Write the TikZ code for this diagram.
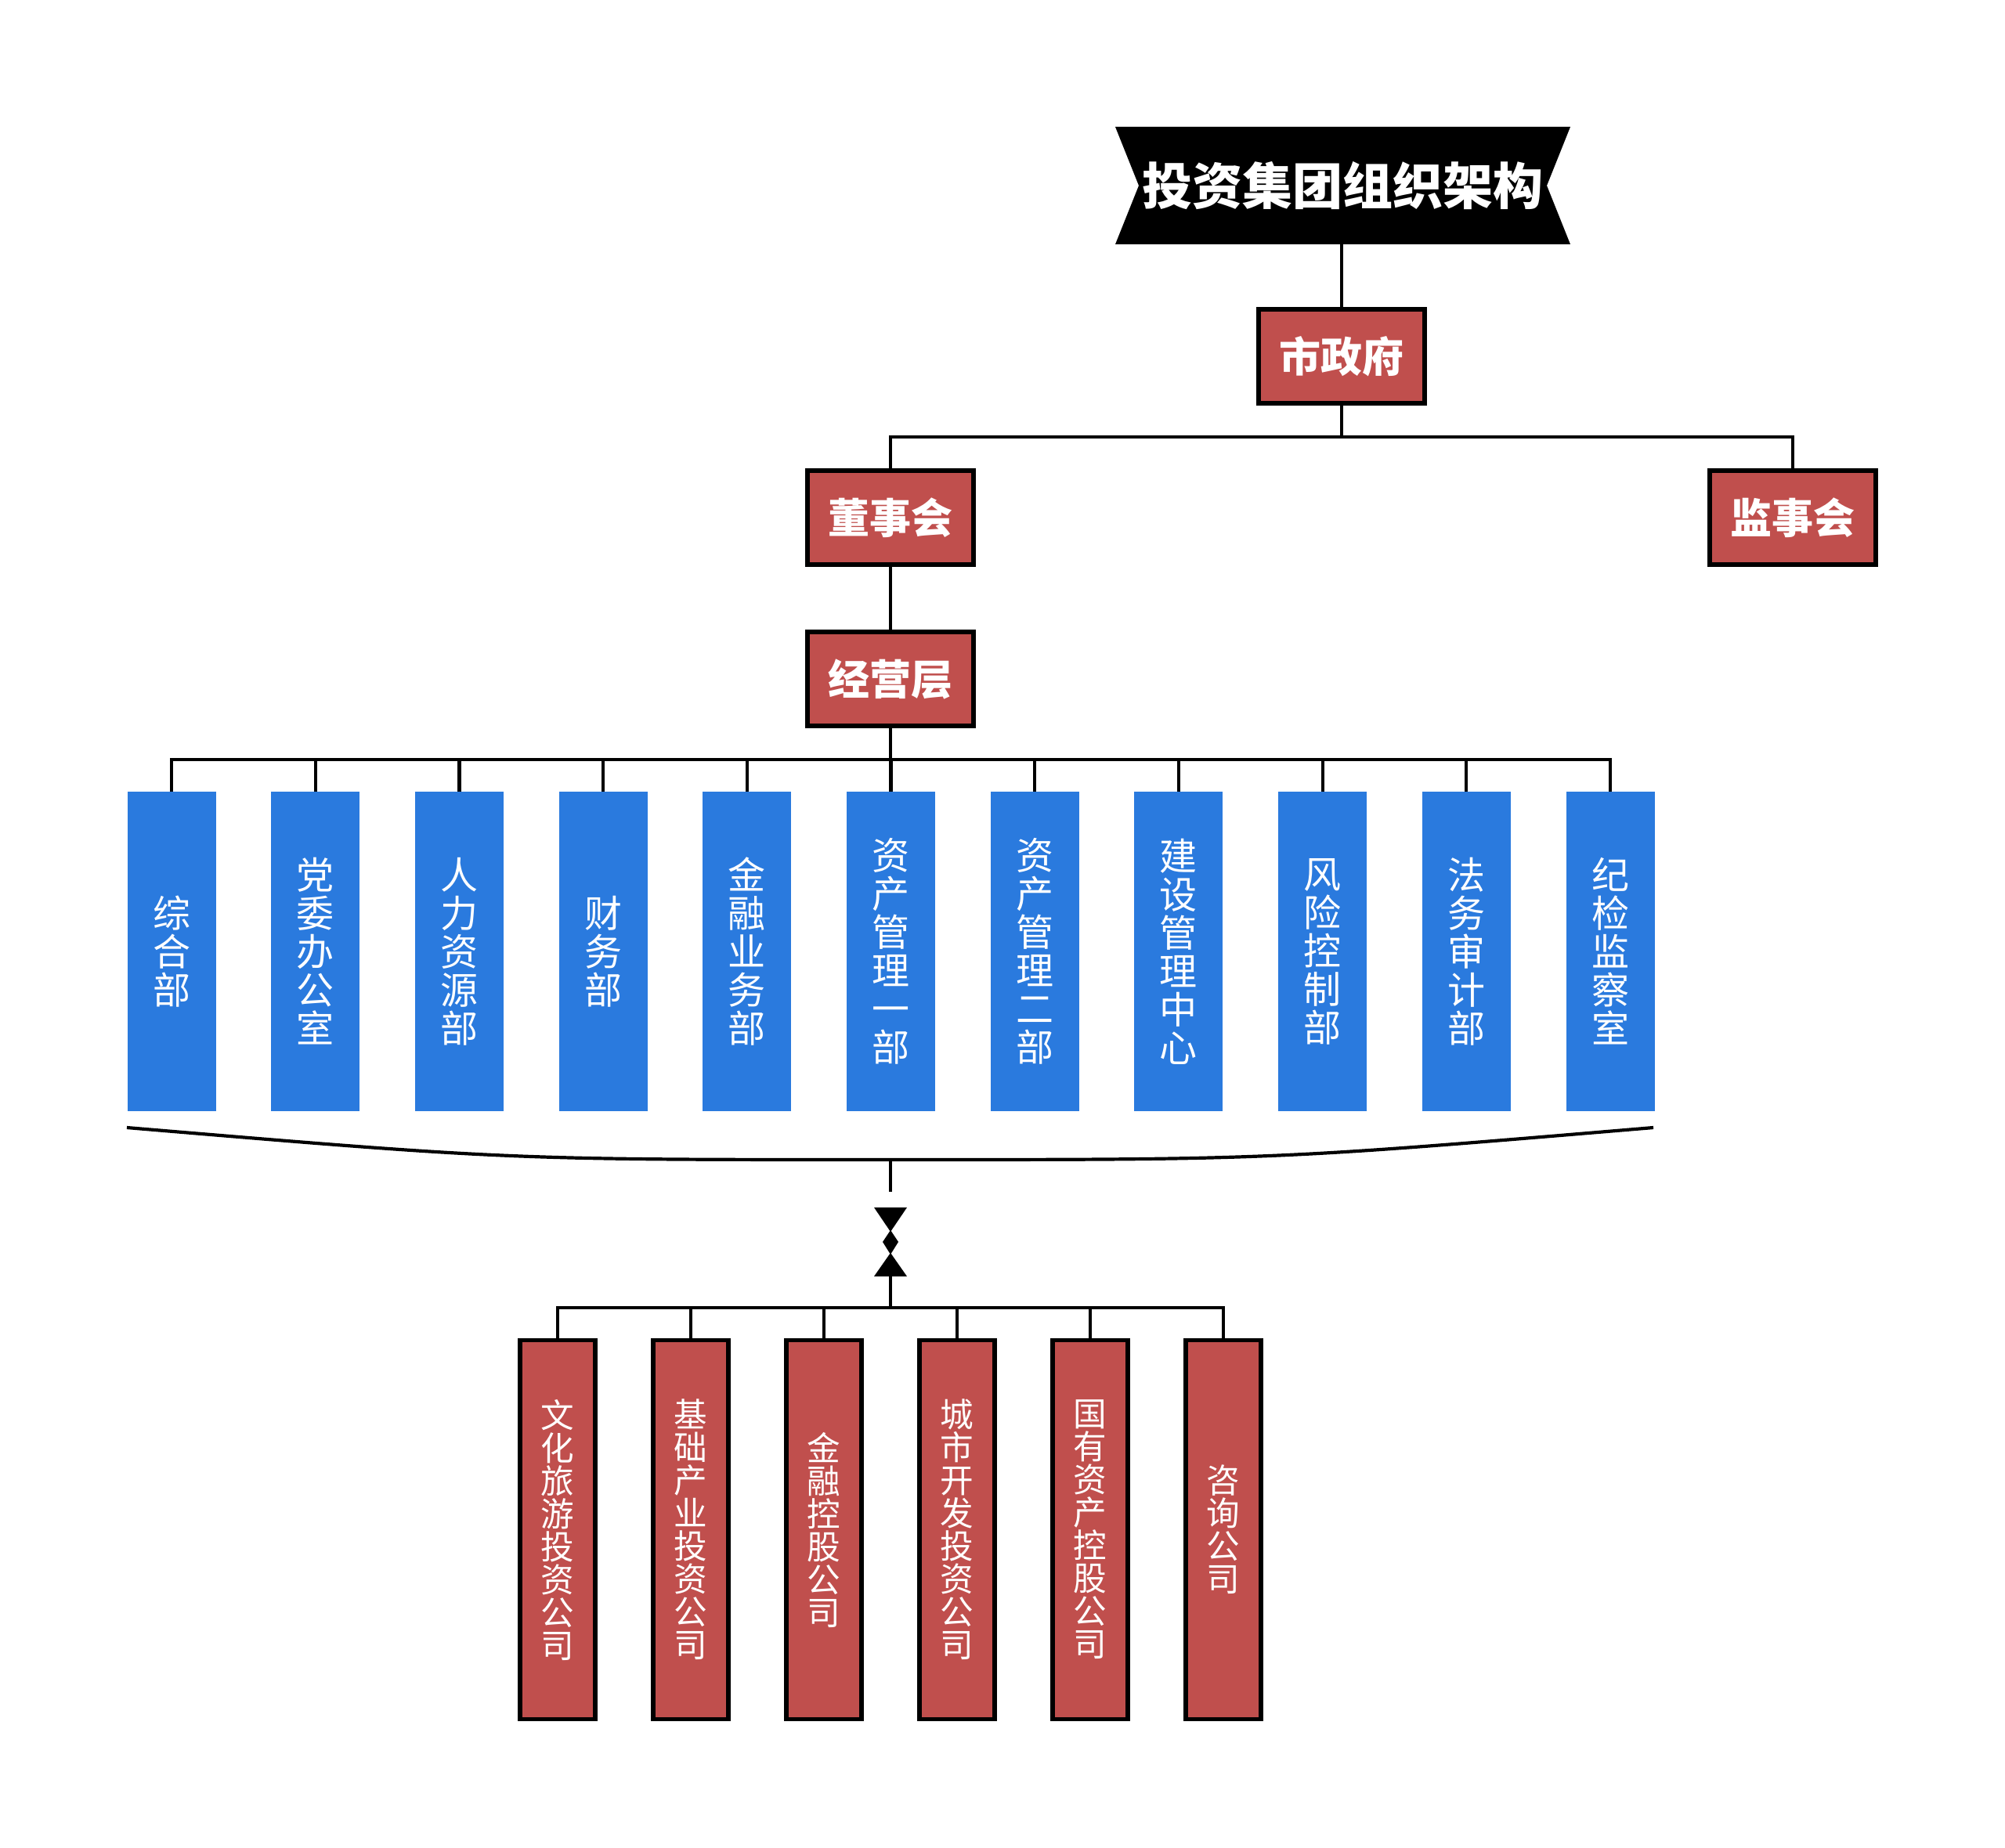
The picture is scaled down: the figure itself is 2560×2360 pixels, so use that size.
\documentclass[tikz,border=0pt]{standalone}
\usepackage{fontspec}
\newfontfamily\cjk{Noto Sans CJK SC}
\definecolor{boxred}{HTML}{C04F4D}
\definecolor{boxblue}{HTML}{2A7ADE}
\tikzset{
  conn/.style={draw=black, line width=2.1pt},
  topbox/.style={draw=black, line width=2.8pt, fill=boxred, text=white,
    minimum width=106pt, minimum height=60pt, inner sep=0pt,
    font=\fontsize{26.5}{28}\selectfont\cjk\bfseries},
  deptbox/.style={fill=boxblue, text=white, minimum width=56.5pt, minimum height=204pt,
    inner sep=0pt, align=center, font=\fontsize{24}{24.5}\selectfont\cjk},
  compbox/.style={draw=black, line width=2.6pt, fill=boxred, text=white,
    minimum width=48pt, minimum height=242pt, inner sep=0pt, align=center,
    font=\fontsize{21.3}{21}\selectfont\cjk},
}
\begin{document}
\begin{tikzpicture}[x=0.5pt, y=-0.5pt]
\useasboundingbox (0,0) rectangle (2560,2360);
% title
\fill[black] (1424,162) -- (2005,162) -- (1975,237) -- (2005,312) -- (1424,312) -- (1454,237) -- cycle;
\node[inner sep=0pt, minimum width=581pt*0.5, minimum height=75pt] (title) at (1714.5,237)
  {\color{white}\fontsize{32}{34}\selectfont\cjk\bfseries 投资集团组织架构};
\coordinate (titleS) at (1713,312);
% top level boxes
\node[topbox] (gov) at (1713,455) {市政府};
\node[topbox] (dsh) at (1137,661) {董事会};
\node[topbox] (jsh) at (2289,661) {监事会};
\node[topbox] (mgmt) at (1137,867) {经营层};
\coordinate (b1) at (1713,558);
\draw[conn] (titleS) -- (gov.north);
\draw[conn] (gov.south) -- (b1);
\draw[conn] (dsh.north) |- (b1) -| (jsh.north);
\draw[conn] (dsh.south) -- (mgmt.north);
% departments
\coordinate (b2) at (1137,970);
\draw[conn] (mgmt.south) -- (b2);
\foreach \i/\t in {0/{综\\合\\部},1/{党\\委\\办\\公\\室},2/{人\\力\\资\\源\\部},3/{财\\务\\部},
  4/{金\\融\\业\\务\\部},5/{资\\产\\管\\理\\一\\部},6/{资\\产\\管\\理\\二\\部},
  7/{建\\设\\管\\理\\中\\心},8/{风\\险\\控\\制\\部},9/{法\\务\\审\\计\\部},10/{纪\\检\\监\\察\\室}}{
  \node[deptbox] (d\i) at ({219+\i*183.7},1215) {\t};
  \draw[conn] (d\i.north) |- (b2);
}
% bracket
\coordinate (brL) at (162,1440);
\coordinate (brR) at (2111,1440);
\coordinate (brC) at (1137,1481);
\coordinate (brD) at (1137,1522);
\draw[conn] (brL) .. controls (650,1481) .. (brC) .. controls (1624,1481) .. (brR);
\draw[conn] (brC) -- (brD);
% bowtie symbol
\fill[black] (1116,1542) -- (1158,1542) -- (1137,1573) -- cycle;
\fill[black] (1137,1571) -- (1147,1586) -- (1137,1602) -- (1127,1586) -- cycle;
\fill[black] (1137,1600) -- (1158,1630) -- (1116,1630) -- cycle;
\coordinate (bowB) at (1137,1630);
\coordinate (b3) at (1137,1670);
\draw[conn] (bowB) -- (b3);
% companies
\foreach \i/\t in {0/{文\\化\\旅\\游\\投\\资\\公\\司},1/{基\\础\\产\\业\\投\\资\\公\\司},2/{金\\融\\控\\股\\公\\司},
  3/{城\\市\\开\\发\\投\\资\\公\\司},4/{国\\有\\资\\产\\控\\股\\公\\司},5/{咨\\询\\公\\司}}{
  \node[compbox] (c\i) at ({712+\i*170},1953.5) {\t};
  \draw[conn] (c\i.north) |- (b3);
}
\end{tikzpicture}
\end{document}
